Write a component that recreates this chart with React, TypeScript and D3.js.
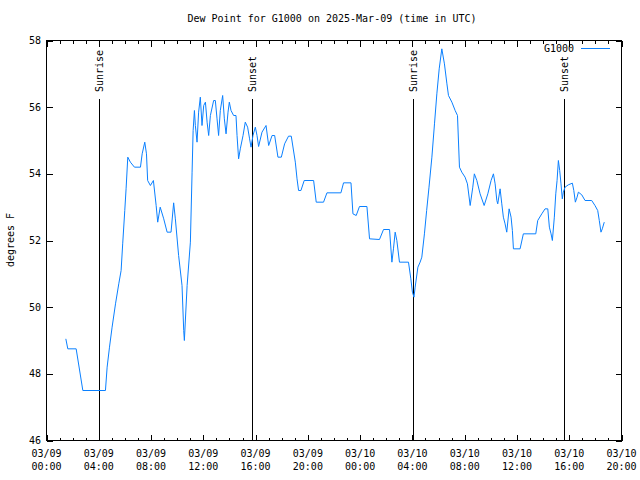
import React from "react";
import * as d3 from "d3";

// hours since 2025-03-09 00:00 UTC
const hours = [
  1.48, 1.63, 2.27, 2.78, 4.51, 4.64, 4.82, 5.02, 5.28, 5.53, 5.71, 5.83, 5.99, 6.09, 6.22,
  6.42, 6.73, 7.19, 7.32, 7.52, 7.65, 7.74, 7.95, 8.18, 8.39, 8.51, 8.70, 8.97, 9.23, 9.53,
  9.73, 9.86, 10.11, 10.37, 10.5, 10.55, 10.76, 11.01, 11.14, 11.22, 11.32, 11.39, 11.52, 11.64, 11.77,
  11.9, 12.03, 12.16, 12.29, 12.41, 12.54, 12.79, 12.92, 13.05, 13.17, 13.3, 13.48, 13.61, 13.74, 13.89,
  13.99, 14.12, 14.32, 14.5, 14.58, 14.7, 14.83, 15.04, 15.21, 15.39, 15.54, 15.65, 15.8, 15.98, 16.11,
  16.23, 16.49, 16.8, 17.0, 17.26, 17.46, 17.71, 17.97, 18.22, 18.52, 18.73, 19.04, 19.17, 19.29, 19.47,
  19.72, 20.44, 20.64, 21.2, 21.46, 22.53, 22.73, 23.3, 23.45, 23.7, 23.95, 24.52, 24.72, 25.48, 25.79,
  26.25, 26.43, 26.55, 26.68, 26.81, 27.01, 27.7, 27.88, 28.0, 28.12, 28.21, 28.42, 28.59, 28.72, 28.92,
  29.09, 29.27, 29.49, 29.69, 29.87, 30.05, 30.25, 30.45, 30.64, 30.76, 31.02, 31.27, 31.45, 31.6, 31.78,
  32.03, 32.21, 32.42, 32.62, 32.74, 32.93, 33.18, 33.49, 33.77, 34.02, 34.2, 34.33, 34.46, 34.53, 34.71,
  34.84, 34.96, 35.09, 35.22, 35.4, 35.55, 35.65, 35.73, 36.24, 36.49, 37.44, 37.59, 37.9, 38.15, 38.36,
  38.48, 38.61, 38.71, 38.86, 38.97, 39.07, 39.17, 39.27, 39.37, 39.47, 39.55, 39.68, 39.93, 40.24, 40.35,
  40.47, 40.6, 40.7, 40.96, 41.21, 41.72, 41.97, 42.18, 42.3, 42.43, 42.53, 42.68,
];

const dewPoint = [
  49.05, 48.75, 48.75, 47.5, 47.5, 48.2, 48.8, 49.4, 50.1, 50.7, 51.1, 51.9, 52.9, 53.55, 54.5,
  54.35, 54.2, 54.2, 54.6, 54.95, 54.6, 53.8, 53.65, 53.8, 53.05, 52.55, 53.0, 52.65, 52.25, 52.25,
  53.13, 52.65, 51.55, 50.65, 49.3, 49.0, 50.65, 51.95, 54.05, 55.3, 55.9, 55.45, 54.95, 55.85, 56.3,
  55.45, 56.05, 56.15, 55.55, 55.15, 55.75, 56.2, 56.2, 55.65, 55.15, 55.9, 56.35, 55.65, 55.2, 55.85,
  56.15, 55.9, 55.75, 55.75, 55.15, 54.45, 54.75, 55.15, 55.55, 55.4, 55.05, 54.8, 55.15, 55.4, 55.15,
  54.82, 55.25, 55.45, 54.85, 55.15, 55.15, 54.5, 54.5, 54.9, 55.13, 55.13, 54.35, 53.85, 53.5, 53.5,
  53.8, 53.8, 53.15, 53.15, 53.43, 53.43, 53.73, 53.73, 52.8, 52.75, 53.02, 53.02, 52.05, 52.03, 52.33,
  52.33, 51.35, 51.75, 52.25, 52.0, 51.35, 51.35, 50.85, 50.45, 50.3, 50.6, 51.2, 51.35, 51.5, 52.2,
  52.9, 53.6, 54.5, 55.5, 56.4, 57.15, 57.75, 57.3, 56.7, 56.35, 56.15, 55.9, 55.75, 54.2, 54.05,
  53.9, 53.7, 53.05, 53.6, 54.0, 53.8, 53.4, 53.05, 53.4, 53.8, 54.0, 53.7, 53.2, 53.1, 53.55,
  53.1, 52.7, 52.5, 52.25, 52.95, 52.7, 52.3, 51.75, 51.75, 52.2, 52.2, 52.6, 52.8, 52.95, 52.95,
  52.4, 52.2, 52.0, 52.7, 53.4, 53.8, 54.4, 54.1, 53.7, 53.25, 53.45, 53.6, 53.67, 53.72, 53.5,
  53.15, 53.3, 53.45, 53.37, 53.2, 53.2, 53.05, 52.9, 52.6, 52.25, 52.35, 52.55,
];

const sunEvents = ["Sunrise", "Sunset", "Sunrise", "Sunset"];
const sunHours = [4.02, 15.7, 28.03, 39.63];

const xTickHours = [0, 4, 8, 12, 16, 20, 24, 28, 32, 36, 40, 44];
const xTickDates = ["03/09", "03/09", "03/09", "03/09", "03/09", "03/09", "03/10", "03/10", "03/10", "03/10", "03/10", "03/10"];
const xTickTimes = ["00:00", "04:00", "08:00", "12:00", "16:00", "20:00", "00:00", "04:00", "08:00", "12:00", "16:00", "20:00"];
const yTicks = [46, 48, 50, 52, 54, 56, 58];

const W = 640;
const H = 480;
const L = 46.5;
const R = 621.5;
const T = 40.5;
const B = 440.5;
const FONT = "'DejaVu Sans Mono', monospace";
const BLUE = "#0a80ff";

export default function App() {
  const x = d3.scaleLinear().domain([0, 44]).range([L, R]);
  const y = d3.scaleLinear().domain([46, 58]).range([B, T]);
  const pts: [number, number][] = hours.map((h, i) => [h, dewPoint[i]]);
  const line = d3
    .line<[number, number]>()
    .x((d) => x(d[0]))
    .y((d) => y(d[1]));
  const minor = d3.range(0, 45, 1).filter((h) => h % 4 !== 0);

  return (
    <svg
      width={W}
      height={H}
      style={{ position: "absolute", left: 0, top: 0, background: "#fff" }}
      fontFamily={FONT}
    >
      <rect width={W} height={H} fill="#fff" />
      <text x={W / 2 + 12} y={22} fontSize={10} textAnchor="middle" fill="#000">
        Dew Point for G1000 on 2025-Mar-09 (time in UTC)
      </text>
      <g shapeRendering="crispEdges" stroke="#000" strokeWidth={1}>
        {yTicks.map((v) => (
          <g key={"y" + v}>
            <line x1={L} x2={L + 6} y1={Math.round(y(v)) + 0.5} y2={Math.round(y(v)) + 0.5} />
            <line x1={R} x2={R - 6} y1={Math.round(y(v)) + 0.5} y2={Math.round(y(v)) + 0.5} />
          </g>
        ))}
        {xTickHours.map((h) => (
          <g key={"x" + h}>
            <line x1={Math.round(x(h)) + 0.5} x2={Math.round(x(h)) + 0.5} y1={B} y2={B - 6} />
            <line x1={Math.round(x(h)) + 0.5} x2={Math.round(x(h)) + 0.5} y1={T} y2={T + 6} />
          </g>
        ))}
        {minor.map((h) => (
          <g key={"m" + h}>
            <line x1={Math.round(x(h)) + 0.5} x2={Math.round(x(h)) + 0.5} y1={B} y2={B - 3} />
            <line x1={Math.round(x(h)) + 0.5} x2={Math.round(x(h)) + 0.5} y1={T} y2={T + 3} />
          </g>
        ))}
        {sunHours.map((h, i) => (
          <line
            key={"s" + i}
            x1={Math.round(x(h)) + 0.5}
            x2={Math.round(x(h)) + 0.5}
            y1={99}
            y2={B}
          />
        ))}
        <rect x={L} y={T} width={R - L} height={B - T} fill="none" />
        <line x1={581} x2={610} y1={48.5} y2={48.5} stroke={BLUE} />
      </g>
      {sunEvents.map((s, i) => (
        <text
          key={"st" + i}
          transform={`translate(${Math.round(x(sunHours[i])) + 4},92) rotate(-90)`}
          fontSize={10}
          fill="#000"
        >
          {s}
        </text>
      ))}
      {yTicks.map((v) => (
        <text key={"yl" + v} x={41} y={y(v) + 3.5} fontSize={10} textAnchor="end" fill="#000">
          {v}
        </text>
      ))}
      {xTickHours.map((h, i) => (
        <g key={"xl" + h}>
          <text x={x(h)} y={457} fontSize={10} textAnchor="middle" fill="#000">
            {xTickDates[i]}
          </text>
          <text x={x(h)} y={470} fontSize={10} textAnchor="middle" fill="#000">
            {xTickTimes[i]}
          </text>
        </g>
      ))}
      <text
        transform={`translate(14,240) rotate(-90)`}
        fontSize={10}
        textAnchor="middle"
        fill="#000"
      >
        degrees F
      </text>
      <text x={574} y={52} fontSize={10} textAnchor="end" fill="#000">
        G1000
      </text>
      <path d={line(pts) || ""} fill="none" stroke={BLUE} strokeWidth={1} />
    </svg>
  );
}
